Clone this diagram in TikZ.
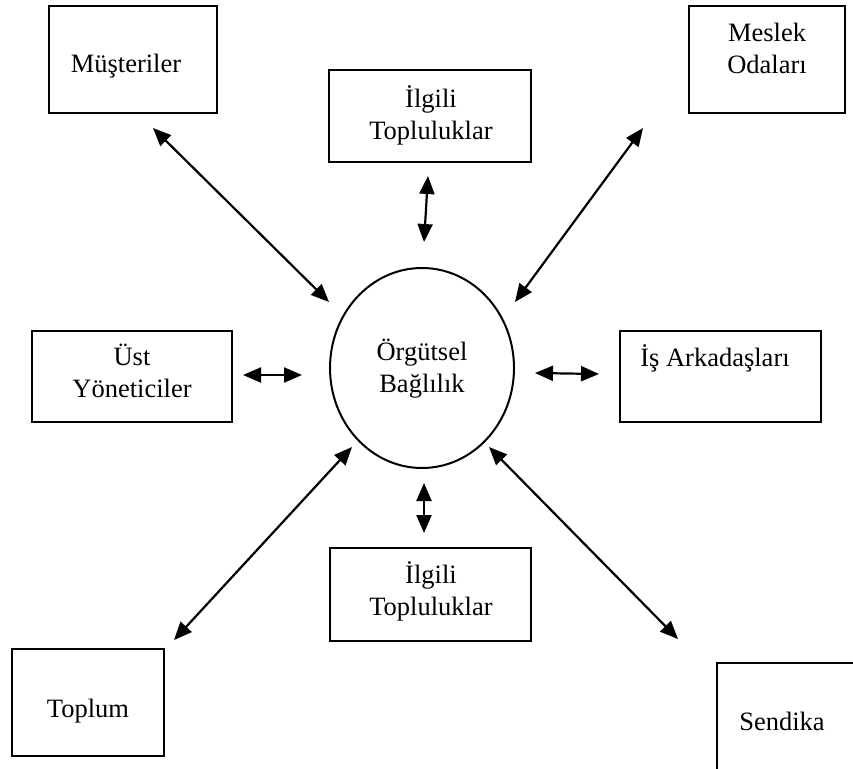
\documentclass[tikz,border=0pt]{standalone}
\usepackage{fontspec}
\setmainfont{Liberation Serif}
\usetikzlibrary{arrows.meta,shapes.geometric}
\begin{document}
\begin{tikzpicture}[x=1pt,y=-1pt,
  box/.style={draw, line width=2pt, rectangle, inner sep=0pt},
  lbl/.style={font=\fontsize{26.5}{32}\selectfont, align=center, anchor=base, inner sep=0pt},
  link/.style={line width=2.2pt, {Triangle[length=18pt,width=15pt]}-{Triangle[length=18pt,width=15pt]}},
]
\useasboundingbox (0,0) rectangle (853,768);
\clip (0,0) rectangle (853,768);
% boxes
\node[box, minimum width=168pt, minimum height=107pt] (must) at (133,59.5) {};
\node[box, minimum width=156pt, minimum height=107pt] (meslek) at (767,59.5) {};
\node[box, minimum width=202pt, minimum height=92pt] (ilgT) at (430,116) {};
\node[box, minimum width=200pt, minimum height=91pt] (ust) at (132,376.5) {};
\node[box, minimum width=201pt, minimum height=91pt] (is) at (720.5,376.5) {};
\node[box, minimum width=201pt, minimum height=93pt] (ilgB) at (430.5,594.5) {};
\node[box, minimum width=152pt, minimum height=107pt] (toplum) at (88,702.5) {};
\node[box, minimum width=183pt, minimum height=137pt] (sendika) at (808.5,731.5) {};
\node[draw, ellipse, line width=2pt, inner sep=0pt, minimum width=184pt, minimum height=200pt] (ob) at (422,368) {};
% texts (base = baseline of last line)
\node[lbl] (tmust) at (126,72) {Müşteriler};
\node[lbl] (tmeslek) at (767,73) {Meslek\\Odaları};
\node[lbl] (tilgT) at (431,139) {İlgili\\Topluluklar};
\node[lbl] (tust) at (132,397) {Üst\\Yöneticiler};
\node[lbl] (tob) at (422,392) {Örgütsel\\Bağlılık};
\node[lbl] (tis) at (715,366) {İş Arkadaşları};
\node[lbl] (tilgB) at (431,615) {İlgili\\Topluluklar};
\node[lbl] (ttoplum) at (88,717) {Toplum};
\node[lbl] (tsendika) at (782,730) {Sendika};
% arrow end points
\coordinate (a1) at (153,128); \coordinate (b1) at (329,302);
\coordinate (a2) at (643,128); \coordinate (b2) at (515,302);
\coordinate (a3) at (428,176); \coordinate (b3) at (424,242);
\coordinate (a4) at (424,483); \coordinate (b4) at (424,533);
\coordinate (a5) at (243,375); \coordinate (b5) at (302,375);
\coordinate (a6) at (535,373); \coordinate (b6) at (599,374);
\coordinate (a7) at (174,640); \coordinate (b7) at (352,447);
\coordinate (a8) at (678,639); \coordinate (b8) at (489,447);
\draw[link] (a1) -- (b1);
\draw[link] (a2) -- (b2);
\draw[link] (a3) -- (b3);
\draw[link] (a4) -- (b4);
\draw[link] (a5) -- (b5);
\draw[link] (a6) -- (b6);
\draw[link] (a7) -- (b7);
\draw[link] (a8) -- (b8);
\end{tikzpicture}
\end{document}
